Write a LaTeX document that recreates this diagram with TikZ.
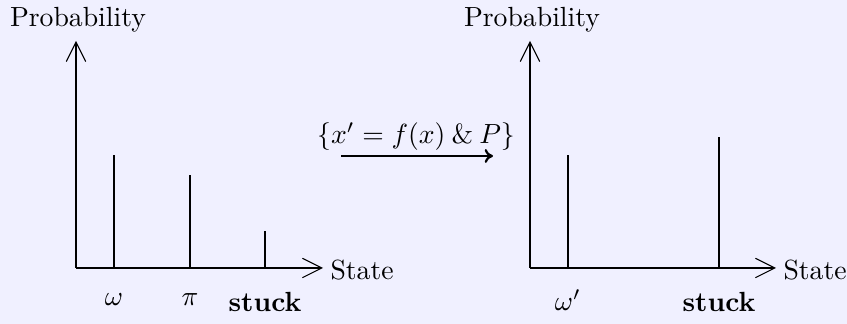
\documentclass[tikz,border=0pt]{standalone}
\usetikzlibrary{arrows.meta}
\definecolor{bgcol}{RGB}{240,240,255}
\begin{document}
\begin{tikzpicture}[x=0.361pt,y=-0.361pt,
  axis/.style={line width=0.4pt,-{Straight Barb[length=7pt,width=7pt,line width=0.4pt]}},
  bar/.style={line width=0.4pt},
  lbl/.style={inner sep=0pt},
  trans/.style={line width=0.8pt,-{To[length=3pt,width=5pt]}}]
\fill[bgcol] (0,0) rectangle (847,324);
\useasboundingbox (0,0) rectangle (847,324);
% left plot
\coordinate (o1) at (76,268);
\coordinate (ytop1) at (76,41);
\coordinate (xend1) at (323,268);
\draw[axis] (o1) -- (ytop1);
\draw[axis] (o1) -- (xend1);
\node[lbl] (p1) at (78,20) {Probability};
\node[lbl,anchor=west] (s1) at (330,270) {State};
\coordinate (b1a) at (114,268); \coordinate (b1at) at (114,155);
\coordinate (b1b) at (190,268); \coordinate (b1bt) at (190,175);
\coordinate (b1c) at (265,268); \coordinate (b1ct) at (265,231);
\draw[bar] (b1a) -- (b1at);
\draw[bar] (b1b) -- (b1bt);
\draw[bar] (b1c) -- (b1ct);
\node[lbl] (l1a) at (114,300) {$\omega$};
\node[lbl] (l1b) at (190,300) {$\pi$};
\node[lbl] (l1c) at (265,302) {\textbf{stuck}};
% transition
\coordinate (ta) at (341,156);
\coordinate (tb) at (493,156);
\draw[trans] (ta) -- (tb);
\node[lbl] (tl) at (416,137) {$\{x' = f(x) \mathbin{\&} P\}$};
% right plot
\coordinate (o2) at (530,268);
\coordinate (ytop2) at (530,41);
\coordinate (xend2) at (776,268);
\draw[axis] (o2) -- (ytop2);
\draw[axis] (o2) -- (xend2);
\node[lbl] (p2) at (532,20) {Probability};
\node[lbl,anchor=west] (s2) at (783,270) {State};
\coordinate (b2a) at (568,268); \coordinate (b2at) at (568,155);
\coordinate (b2b) at (719,268); \coordinate (b2bt) at (719,137);
\draw[bar] (b2a) -- (b2at);
\draw[bar] (b2b) -- (b2bt);
\node[lbl] (l2a) at (568,300) {$\omega'$};
\node[lbl] (l2b) at (719,302) {\textbf{stuck}};
\end{tikzpicture}
\end{document}
